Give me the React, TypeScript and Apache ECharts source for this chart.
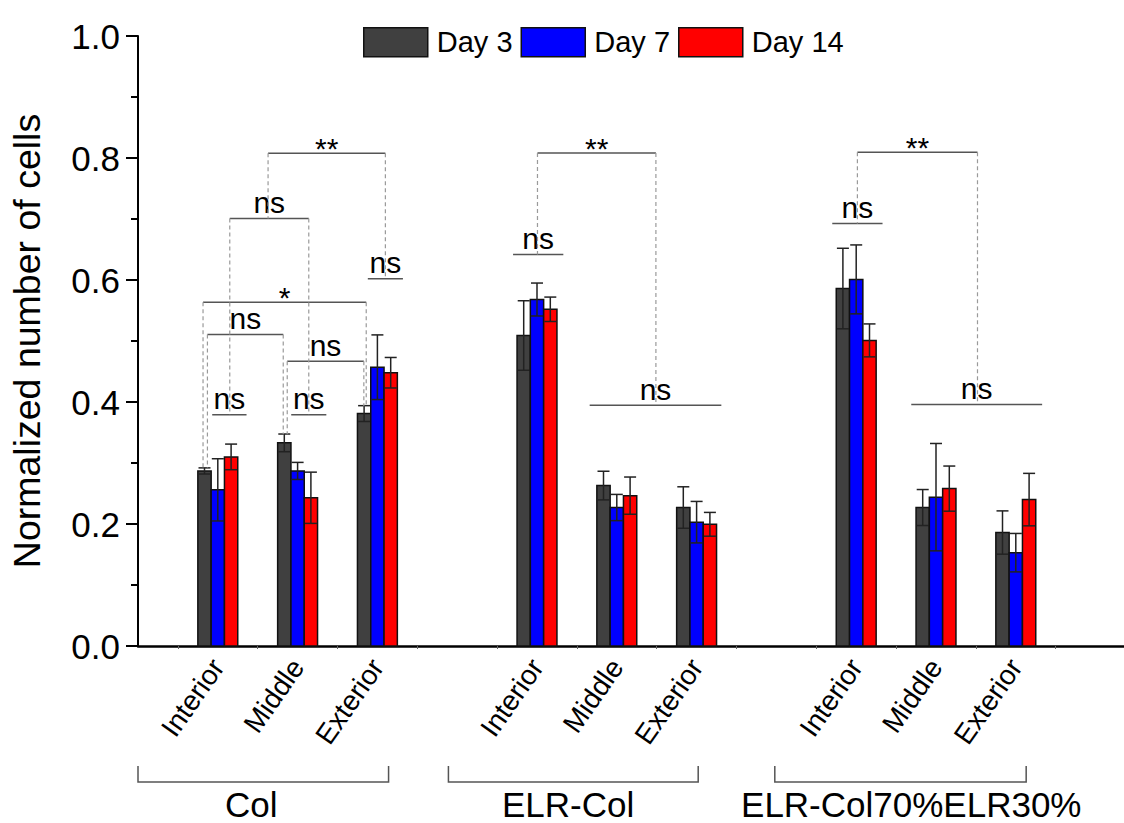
import React, { useEffect, useRef } from "react";
import * as echarts from "echarts";

// ---- data ----
const groups = ["Col", "ELR-Col", "ELR-Col70%ELR30%"];
const regions = ["Interior", "Middle", "Exterior"];
const positions = [1, 2, 3, 5, 6, 7, 9, 10, 11];
const categories = ["Interior", "Middle", "Exterior", "Interior", "Middle", "Exterior", "Interior", "Middle", "Exterior"];
const seriesNames = ["Day 3", "Day 7", "Day 14"];
const day3 = [0.287, 0.333, 0.381, 0.509, 0.263, 0.227, 0.586, 0.227, 0.186];
const err3 = [0.005, 0.0145, 0.013, 0.057, 0.0235, 0.034, 0.066, 0.0295, 0.0355];
const day7 = [0.256, 0.287, 0.457, 0.568, 0.227, 0.203, 0.601, 0.244, 0.153];
const err7 = [0.051, 0.014, 0.053, 0.027, 0.0215, 0.034, 0.0565, 0.088, 0.0315];
const day14 = [0.31, 0.243, 0.448, 0.552, 0.2465, 0.1995, 0.501, 0.258, 0.24];
const err14 = [0.021, 0.042, 0.025, 0.02, 0.0305, 0.0195, 0.027, 0.037, 0.043];
const yTicks = [0, 0.2, 0.4, 0.6, 0.8, 1.0];

// significance annotations (x in category units, y in values)
const sigLabels = ["ns", "ns", "ns", "ns", "ns", "*", "ns", "**", "ns", "**", "ns", "ns", "**", "ns"];
const sigX1 = [0.93, 1.92, 2.88, 0.87, 1.87, 0.815, 1.15, 1.63, 4.7, 5.006, 5.66, 8.7, 9.015, 9.69];
const sigX2 = [1.36, 2.36, 3.32, 1.82, 2.83, 2.86, 2.14, 3.1, 5.33, 6.49, 7.31, 9.33, 10.52, 11.33];
const sigY = [0.379, 0.379, 0.602, 0.5105, 0.467, 0.5635, 0.7007, 0.8077, 0.6416, 0.808, 0.3946, 0.6925, 0.8093, 0.396];
const legL = [NaN, NaN, NaN, 0.292, 0.347, 0.292, 0.379, 0.7007, NaN, 0.6416, NaN, NaN, 0.6925, NaN];
const legR = [NaN, NaN, NaN, 0.347, 0.393, 0.393, 0.379, 0.602, NaN, 0.3946, NaN, NaN, 0.396, NaN];

// group brackets (x in category units)
const groupX1 = [0, 3.89, 7.98];
const groupX2 = [3.14, 7.02, 11.13];
const groupLabelX = [1.42, 5.39, 9.69];

const FONT = "'Liberation Sans', Arial, sans-serif";
const colors = ["#404040", "#0000ff", "#ff0000"];
const BAR_W = 1 / 6;

function barSeries(idx: number, vals: number[], errs: number[]) {
  const offset = (idx - 1) * BAR_W;
  return {
    name: seriesNames[idx],
    type: "custom",
    itemStyle: { color: colors[idx], borderColor: "#111", borderWidth: 1.5 },
    encode: { x: 0, y: 1 },
    data: positions.map((p, i) => [p, vals[i], errs[i]]),
    renderItem: (params: any, api: any) => {
      const x = api.value(0) + offset;
      const v = api.value(1);
      const e = api.value(2);
      const base = api.coord([x, 0]);
      const top = api.coord([x, v]);
      const w = api.size([BAR_W, 0])[0];
      const et = api.coord([x, v + e]);
      const eb = api.coord([x, v - e]);
      const cap = 6;
      const es = { stroke: "#222", lineWidth: 1.5 };
      return {
        type: "group",
        children: [
          {
            type: "rect",
            shape: { x: base[0] - w / 2, y: top[1], width: w, height: base[1] - top[1] },
            style: { fill: colors[idx], stroke: "#111", lineWidth: 1.5 },
          },
          { type: "line", shape: { x1: et[0], y1: et[1], x2: eb[0], y2: eb[1] }, style: es },
          { type: "line", shape: { x1: et[0] - cap, y1: et[1], x2: et[0] + cap, y2: et[1] }, style: es },
          { type: "line", shape: { x1: eb[0] - cap, y1: eb[1], x2: eb[0] + cap, y2: eb[1] }, style: es },
        ],
      };
    },
  };
}

export default function App() {
  const ref = useRef<HTMLDivElement>(null);
  useEffect(() => {
    if (!ref.current) return;
    const chart = echarts.init(ref.current, null, { renderer: "svg" });
    const labelMap: Record<number, string> = {};
    positions.forEach((p, i) => (labelMap[p] = categories[i]));

    const option: any = {
      animation: false,
      backgroundColor: "#fff",
      legend: {
        left: 363,
        top: 27,
        padding: 0,
        itemWidth: 64,
        itemHeight: 29,
        itemGap: 8,
        icon: "rect",
        data: seriesNames,
        itemStyle: { borderColor: "#111", borderWidth: 1.5 },
        textStyle: { fontSize: 29, fontFamily: FONT, color: "#000", padding: [0, 0, 0, 4] },
      },
      grid: { left: 135.5, top: 36, width: 1000, height: 610 },
      xAxis: {
        type: "value",
        min: 0,
        max: 12.5,
        interval: 1,
        splitLine: { show: false },
        axisLine: { lineStyle: { color: "#000", width: 2.5 } },
        axisTick: { show: false },
        minorTick: { show: true, splitNumber: 2, length: 3, lineStyle: { color: "#666", width: 1 } },
        minorSplitLine: { show: false },
        axisLabel: {
          rotate: 55,
          margin: 16,
          fontSize: 28,
          fontFamily: FONT,
          color: "#000",
          showMaxLabel: false,
          formatter: (v: number) => labelMap[v] || "",
        },
      },
      yAxis: {
        type: "value",
        min: 0,
        max: 1,
        interval: 0.2,
        name: "Normalized number of cells",
        nameLocation: "middle",
        nameGap: 92,
        nameTextStyle: { fontSize: 37.5, fontFamily: FONT, color: "#000" },
        splitLine: { show: false },
        axisLine: { show: true, lineStyle: { color: "#000", width: 2 } },
        axisTick: { show: true, inside: false, length: 12, lineStyle: { color: "#000", width: 2 } },
        minorTick: { show: true, splitNumber: 2, length: 7, lineStyle: { color: "#000", width: 2 } },
        axisLabel: {
          margin: 18,
          fontSize: 35,
          fontFamily: FONT,
          color: "#000",
          formatter: (v: number) => (yTicks.some((t) => Math.abs(t - v) < 1e-9) ? v.toFixed(1) : ""),
        },
      },
      series: [
        barSeries(0, day3, err3),
        barSeries(1, day7, err7),
        barSeries(2, day14, err14),
        {
          type: "custom",
          name: "sig",
          silent: true,
          z: 5,
          clip: false,
          encode: { x: 0, y: 2 },
          data: sigLabels.map((_, i) => [sigX1[i], sigX2[i], sigY[i]]),
          renderItem: (params: any, api: any) => {
            const i = params.dataIndex;
            const a = api.coord([sigX1[i], sigY[i]]);
            const b = api.coord([sigX2[i], sigY[i]]);
            const children: any[] = [
              { type: "line", shape: { x1: a[0], y1: a[1], x2: b[0], y2: b[1] }, style: { stroke: "#555", lineWidth: 1.5 } },
            ];
            const dash = { stroke: "#9a9a9a", lineWidth: 1.2, lineDash: [4, 3] };
            if (!isNaN(legL[i])) {
              const l = api.coord([sigX1[i], legL[i]]);
              children.push({ type: "line", shape: { x1: a[0], y1: a[1], x2: l[0], y2: l[1] }, style: dash });
            }
            if (!isNaN(legR[i])) {
              const r = api.coord([sigX2[i], legR[i]]);
              children.push({ type: "line", shape: { x1: b[0], y1: b[1], x2: r[0], y2: r[1] }, style: dash });
            }
            const star = sigLabels[i].indexOf("*") >= 0;
            children.push({
              type: "text",
              style: {
                text: sigLabels[i],
                x: (a[0] + b[0]) / 2,
                y: star ? a[1] + 10 : a[1] - 1,
                align: "center",
                verticalAlign: "bottom",
                fontSize: 30,
                fontFamily: FONT,
                fill: "#000",
              },
            });
            return { type: "group", children };
          },
        },
        {
          type: "custom",
          name: "groups",
          silent: true,
          clip: false,
          encode: { x: 0 },
          data: groups.map((_, i) => [groupX1[i], groupX2[i], groupLabelX[i]]),
          renderItem: (params: any, api: any) => {
            const i = params.dataIndex;
            const a = api.coord([groupX1[i], 0]);
            const b = api.coord([groupX2[i], 0]);
            const c = api.coord([groupLabelX[i], 0]);
            const yTop = a[1] + 120;
            const yBot = a[1] + 136;
            const st = { stroke: "#555", lineWidth: 1.5 };
            return {
              type: "group",
              children: [
                { type: "polyline", shape: { points: [[a[0], yTop], [a[0], yBot], [b[0], yBot], [b[0], yTop]] }, style: { ...st, fill: "none" } },
                {
                  type: "text",
                  style: {
                    text: groups[i],
                    x: c[0],
                    y: a[1] + 176,
                    align: "center",
                    verticalAlign: "bottom",
                    fontSize: 35,
                    fontFamily: FONT,
                    fill: "#000",
                  },
                },
              ],
            };
          },
        },
      ],
    };
    chart.setOption(option);
    return () => chart.dispose();
  }, []);
  return (
    <div style={{ position: "fixed", left: 0, top: 0, width: 1124, height: 823, background: "#fff", overflow: "hidden" }}>
      <div ref={ref} style={{ width: 1140, height: 823 }} />
    </div>
  );
}
